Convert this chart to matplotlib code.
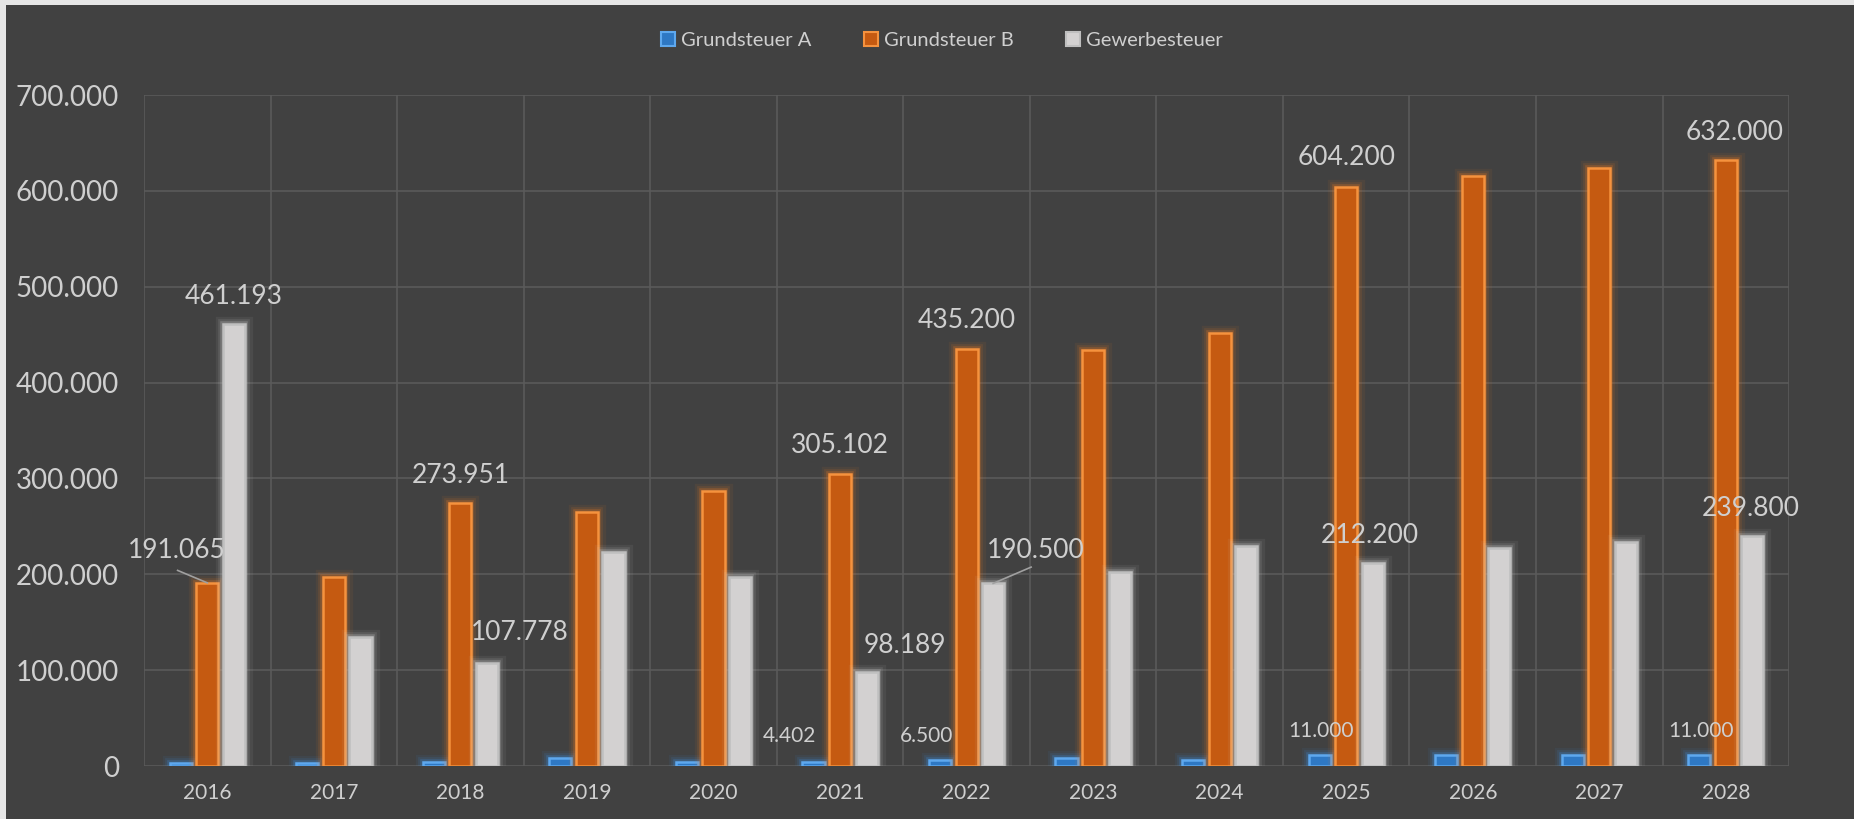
import matplotlib
matplotlib.use("Agg")
import matplotlib.pyplot as plt
import matplotlib.patheffects as pe
from matplotlib.patches import Patch, Rectangle
from matplotlib.ticker import FuncFormatter, MultipleLocator
import numpy as np

# --- data -------------------------------------------------------------
years = ["2016", "2017", "2018", "2019", "2020", "2021", "2022",
         "2023", "2024", "2025", "2026", "2027", "2028"]
grundsteuer_a = [3500, 3500, 4400, 8500, 4400, 4402, 6500,
                 8500, 6500, 11000, 11000, 11000, 11000]
grundsteuer_b = [191065, 197000, 273951, 265000, 287000, 305102, 435200,
                 434000, 452000, 604200, 615000, 624000, 632000]
gewerbesteuer = [461193, 135000, 107778, 223000, 197000, 98189, 190500,
                 202000, 230000, 212200, 227000, 234000, 239800]
series_names = ["Grundsteuer A", "Grundsteuer B", "Gewerbesteuer"]

# which values carry a data label: (series, year index, dx, dy, leader)
label_spots = [
    (2, 0, 0.0, 29000, False),
    (1, 0, -0.245, 34000, True),
    (1, 2, 0.0, 29000, False),
    (2, 2, 0.26, 31000, False),
    (1, 5, 0.0, 29000, False),
    (0, 5, -0.19, 27000, False),
    (2, 5, 0.30, 28000, False),
    (0, 6, -0.11, 25000, False),
    (1, 6, 0.0, 30000, False),
    (2, 6, 0.34, 34000, True),
    (1, 9, 0.0, 31000, False),
    (0, 9, 0.01, 26000, False),
    (2, 9, -0.02, 28000, False),
    (1, 12, 0.07, 29000, False),
    (0, 12, 0.01, 26000, False),
    (2, 12, -0.01, 29000, False),
]

# --- style ------------------------------------------------------------
bg = "#414141"
grid_col = "#5a5a5a"
text_col = "#cfcfcf"
fills = ["#2e78c4", "#c55a11", "#d3d1d1"]
edges = ["#5ea8ee", "#f5923e", "#bfbfbf"]
glows = ["#3d8fe0", "#f07a20", "#cfcfcf"]
offsets = [-0.21, 0.0, 0.21]
bar_w = 0.175

plt.rcParams["font.family"] = ["Lato", "DejaVu Sans"]

fig = plt.figure(figsize=(18.54, 8.19), dpi=100, facecolor=bg)
ax = fig.add_axes([0.0777, 0.0647, 0.8873, 0.8193], facecolor=bg)

# thin light frame at the top and left, as in the screenshot
fig.patches.append(Rectangle((0, 0.994), 1, 0.006, transform=fig.transFigure,
                             facecolor="#e6e6e6", edgecolor="none", zorder=10))
fig.patches.append(Rectangle((0, 0), 0.0035, 1, transform=fig.transFigure,
                             facecolor="#e6e6e6", edgecolor="none", zorder=10))

x = np.arange(len(years))
all_series = [grundsteuer_a, grundsteuer_b, gewerbesteuer]

for k, vals in enumerate(all_series):
    bars = ax.bar(x + offsets[k], vals, width=bar_w, color=fills[k],
                  edgecolor=edges[k], linewidth=1.8, zorder=3,
                  label=series_names[k])
    for b in bars:
        b.set_path_effects([
            pe.Stroke(linewidth=11, foreground=glows[k], alpha=0.07),
            pe.Stroke(linewidth=7, foreground=glows[k], alpha=0.12),
            pe.Stroke(linewidth=4, foreground=glows[k], alpha=0.25),
            pe.Normal(),
        ])

# data labels
for s, i, dx, dy, leader in label_spots:
    v = all_series[s][i]
    bx = x[i] + offsets[s]
    txt = f"{v:,.0f}".replace(",", ".")
    size = 15 if s == 0 else 19
    ax.text(bx + dx, v + dy, txt, ha="center", va="center",
            fontsize=size, color=text_col, zorder=5)
    if leader:
        if dx < 0:
            ax.plot([bx + dx + 0.01, bx], [v + 13000, v], color="#a0a0a0",
                    lw=1.2, zorder=4)
        else:
            ax.plot([bx + dx - 0.04, bx], [v + 17000, v], color="#a0a0a0",
                    lw=1.2, zorder=4)

# axes / grid
ax.set_xlim(-0.5, len(years) - 0.5)
ax.set_ylim(0, 700000)
ax.set_xticks(x)
ax.set_xticklabels(years)
ax.set_xticks(np.arange(-0.5, len(years), 1.0), minor=True)
ax.yaxis.set_major_locator(MultipleLocator(100000))
ax.yaxis.set_major_formatter(FuncFormatter(lambda v, p: f"{v:,.0f}".replace(",", ".")))
ax.grid(axis="y", which="major", color=grid_col, lw=1.2, zorder=0)
ax.grid(axis="x", which="minor", color=grid_col, lw=1.2, zorder=0)
ax.tick_params(axis="both", which="both", length=0)
ax.tick_params(axis="y", labelsize=20, labelcolor=text_col, pad=18)
ax.tick_params(axis="x", labelsize=15, labelcolor=text_col, pad=12)
for sp in ax.spines.values():
    sp.set_visible(False)

handles = [Patch(facecolor=fills[k], edgecolor=edges[k], linewidth=1.5,
                 label=series_names[k]) for k in range(3)]
fig.legend(handles=handles, loc="center", bbox_to_anchor=(0.508, 0.95),
           ncol=3, frameon=False, fontsize=14.5, labelcolor=text_col,
           handlelength=0.7, handleheight=0.7, handletextpad=0.3,
           columnspacing=2.6)

fig.savefig("out.png", dpi=100, facecolor=bg)
